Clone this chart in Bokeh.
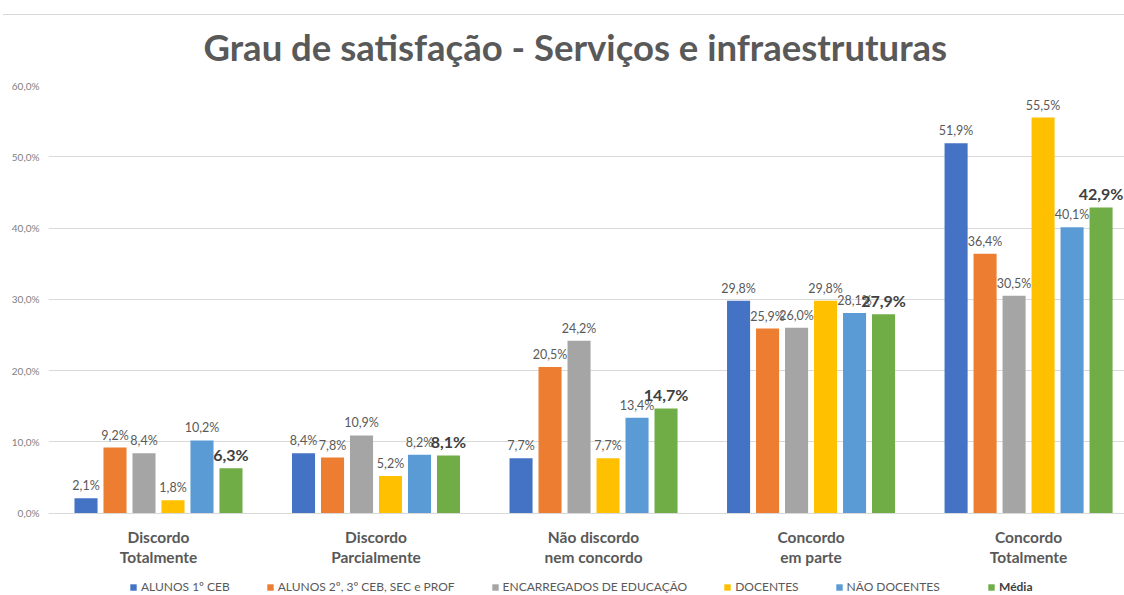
from bokeh.plotting import figure
from bokeh.models import (ColumnDataSource, Range1d, FixedTicker, Legend, LegendItem, Title)
from bokeh.core.properties import value
from bokeh.embed import file_html
from bokeh.resources import INLINE

# ---------------- data ----------------
categories = ["Discordo\nTotalmente", "Discordo\nParcialmente", "Não discordo\nnem concordo",
              "Concordo\nem parte", "Concordo\nTotalmente"]
series_names = ["ALUNOS 1º CEB", "ALUNOS 2º, 3º CEB, SEC e PROF", "ENCARREGADOS DE EDUCAÇÃO",
                "DOCENTES", "NÃO DOCENTES", "Média"]
alunos_1ceb = [2.1, 8.4, 7.7, 29.8, 51.9]
alunos_2_3_sec_prof = [9.2, 7.8, 20.5, 25.9, 36.4]
encarregados = [8.4, 10.9, 24.2, 26.0, 30.5]
docentes = [1.8, 5.2, 7.7, 29.8, 55.5]
nao_docentes = [10.2, 8.2, 13.4, 28.1, 40.1]
media = [6.3, 8.1, 14.7, 27.9, 42.9]
series_values = [alunos_1ceb, alunos_2_3_sec_prof, encarregados, docentes, nao_docentes, media]
colors = ["#4472C4", "#ED7D31", "#A5A5A5", "#FFC000", "#5B9BD5", "#70AD47"]
y_ticks = [0, 10, 20, 30, 40, 50, 60]
y_tick_labels = ["0,0%", "10,0%", "20,0%", "30,0%", "40,0%", "50,0%", "60,0%"]

FONT = "Lato"
W, H = 1124, 595

p = figure(width=W, height=H, output_backend="svg", toolbar_location=None,
           x_range=Range1d(-0.5057, 4.441), y_range=Range1d(-11.55, 60),
           min_border_left=48, min_border_right=0, min_border_top=85, min_border_bottom=0)
p.outline_line_color = None
p.background_fill_color = "white"
p.border_fill_color = "white"
p.border_fill_alpha = 0
# thin grey rule across the top of the chart (as in the reference)
p.styles = {"background": "linear-gradient(#D9D9D9, #D9D9D9) 3px 14px / 100% 1px no-repeat, white"}

title = Title(text="Grau de satisfação - Serviços e infraestruturas", align="left",
              text_font=FONT, text_font_size="36.5px", text_font_style="bold",
              text_color="#595959", standoff=33, offset=155)
p.add_layout(title, "above")

pitch = 0.1333
bw = 0.106
renderers = []
for j, (name, vals, col) in enumerate(zip(series_names, series_values, colors)):
    xs = [i + (j - 2.5) * pitch for i in range(len(categories))]
    labels = [("%.1f" % v).replace(".", ",") + "%" for v in vals]
    src = ColumnDataSource(dict(x=xs, top=vals, label=labels))
    r = p.vbar(x="x", top="top", width=bw, bottom=0, source=src, fill_color=col,
               line_color=None)
    renderers.append(r)
    if name == "Média":
        p.text(x="x", y="top", text="label", source=src, text_align="center",
               text_baseline="bottom", y_offset=-4, text_font=value(FONT),
               text_font_size="16px", text_font_style="bold", text_color="#404040")
    else:
        p.text(x="x", y="top", text="label", source=src, text_align="center",
               text_baseline="bottom", y_offset=-5, text_font=value(FONT),
               text_font_size="12.5px", text_color="#595959")

# axes: category axis fixed at y = 0
p.xaxis.fixed_location = 0
p.xaxis.ticker = FixedTicker(ticks=list(range(len(categories))))
p.xaxis.major_label_overrides = {i: c for i, c in enumerate(categories)}
p.xaxis.major_label_text_font = FONT
p.xaxis.major_label_text_font_size = "15.5px"
p.xaxis.major_label_text_font_style = "bold"
p.xaxis.major_label_text_color = "#595959"
p.xaxis.major_label_text_line_height = 1.12
p.xaxis.major_label_standoff = 9
p.xaxis.axis_line_color = "#D9D9D9"
p.xaxis.major_tick_line_color = None
p.xaxis.minor_tick_line_color = None

p.yaxis.ticker = FixedTicker(ticks=y_ticks)
p.yaxis.major_label_overrides = {t: l for t, l in zip(y_ticks, y_tick_labels)}
p.yaxis.major_label_text_font = FONT
p.yaxis.major_label_text_font_size = "10px"
p.yaxis.major_label_text_color = "#7F7F7F"
p.yaxis.axis_line_color = None
p.yaxis.major_tick_line_color = None
p.yaxis.minor_tick_line_color = None
p.yaxis.major_label_standoff = 3

p.xgrid.grid_line_color = None
p.ygrid.grid_line_color = "#D9D9D9"

# legends (inside the frame, below the category labels); "Média" entry is bold
leg_common = dict(orientation="horizontal", padding=0, margin=0, glyph_width=8,
                  glyph_height=8, label_standoff=4, label_text_font=FONT,
                  label_text_font_size="12px", background_fill_alpha=0,
                  border_line_color=None)
legend = Legend(items=[LegendItem(label=n, renderers=[r]) for n, r in zip(series_names[:5], renderers[:5])],
                location=(81, 1), spacing=36, label_text_color="#595959", **leg_common)
legend_media = Legend(items=[LegendItem(label=series_names[5], renderers=[renderers[5]])],
                      location=(939, 1), label_text_color="#404040",
                      label_text_font_style="bold", **leg_common)
p.add_layout(legend, "center")
p.add_layout(legend_media, "center")

open("out.html", "w").write(file_html(p, INLINE))
